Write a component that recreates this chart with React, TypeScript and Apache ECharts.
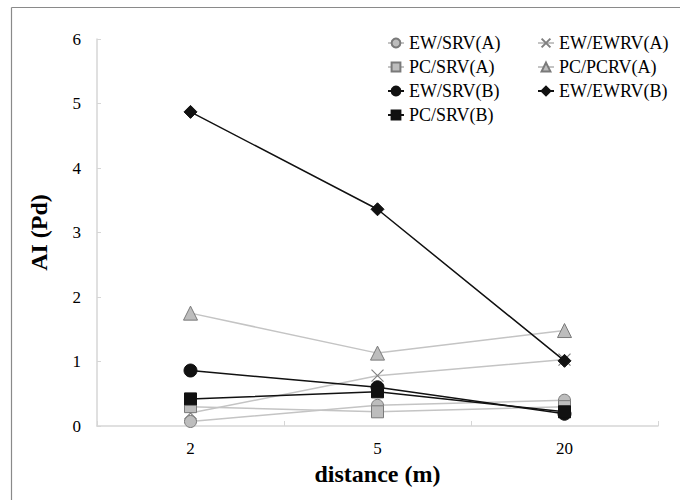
import React, { useEffect, useRef } from "react";
import * as echarts from "echarts";

const categories = ["2", "5", "20"];
const ewSrvA = [0.07, 0.32, 0.4];
const ewEwrvA = [0.2, 0.78, 1.03];
const pcSrvA = [0.3, 0.22, 0.3];
const pcPcrvA = [1.75, 1.13, 1.48];
const ewSrvB = [0.86, 0.6, 0.19];
const ewEwrvB = [4.87, 3.36, 1.01];
const pcSrvB = [0.42, 0.53, 0.22];
const yTicks = [0, 6, 1];

const FONT = "'Liberation Serif', 'DejaVu Serif', serif";
const GRAY_LINE = "#c4c4c4";
const GRAY_FILL = "#bdbdbd";
const GRAY_BORDER = "#7a7a7a";
const BLACK = "#111111";
const CROSS = "path://M0,0L10,10M10,0L0,10";

export default function App() {
  const ref = useRef<HTMLDivElement>(null);
  useEffect(() => {
    if (!ref.current) return;
    const chart = echarts.init(ref.current, undefined, { renderer: "svg" });
    const grayS = (name: string, data: number[], symbol: string, size: number) => ({
      name,
      type: "line",
      data,
      symbol,
      symbolSize: size,
      lineStyle: { color: GRAY_LINE, width: 1.5 },
      itemStyle: { color: GRAY_FILL, borderColor: GRAY_BORDER, borderWidth: 1 },
      emphasis: { disabled: true },
    });
    const blackS = (name: string, data: number[], symbol: string, size: number) => ({
      name,
      type: "line",
      data,
      symbol,
      symbolSize: size,
      lineStyle: { color: BLACK, width: 1.5 },
      itemStyle: { color: BLACK, borderColor: BLACK, borderWidth: 1 },
      emphasis: { disabled: true },
    });
    const crossS = {
      name: "EW/EWRV(A)",
      type: "line",
      data: ewEwrvA,
      symbol: CROSS,
      symbolSize: 12,
      lineStyle: { color: GRAY_LINE, width: 1.5 },
      itemStyle: { color: "rgba(0,0,0,0)", borderColor: "#808080", borderWidth: 1.2 },
      emphasis: { disabled: true },
    };
    const legendBase = {
      orient: "vertical",
      itemWidth: 16,
      itemHeight: 11,
      itemGap: 6,
      selectedMode: false,
      textStyle: { fontFamily: FONT, fontSize: 18, color: "#000", lineHeight: 18 },
    };
    chart.setOption({
      animation: false,
      backgroundColor: "#ffffff",
      grid: { left: 97, right: 22, top: 39, bottom: 74, containLabel: false },
      legend: [
        { ...legendBase, left: 382, top: 29, data: ["EW/SRV(A)", "PC/SRV(A)", "EW/SRV(B)", "PC/SRV(B)"] },
        { ...legendBase, left: 532, top: 29, data: ["EW/EWRV(A)", "PC/PCRV(A)", "EW/EWRV(B)"] },
      ],
      xAxis: {
        type: "category",
        data: categories,
        boundaryGap: true,
        name: "distance (m)",
        nameLocation: "middle",
        nameGap: 36,
        nameTextStyle: { fontFamily: FONT, fontSize: 24, fontWeight: "bold", color: "#000" },
        axisLine: { lineStyle: { color: "#d6d6d6", width: 1.5 } },
        axisTick: { show: true, inside: true, length: 5, lineStyle: { color: "#d6d6d6" } },
        axisLabel: { fontFamily: FONT, fontSize: 17, color: "#000", margin: 14 },
        splitLine: { show: false },
      },
      yAxis: {
        type: "value",
        min: yTicks[0],
        max: yTicks[1],
        interval: yTicks[2],
        name: "AI (Pd)",
        nameLocation: "middle",
        nameRotate: 90,
        nameGap: 46,
        nameTextStyle: { fontFamily: FONT, fontSize: 24, fontWeight: "bold", color: "#000" },
        axisLine: { show: true, lineStyle: { color: "#d6d6d6", width: 1.5 } },
        axisTick: { show: true, inside: true, length: 4, lineStyle: { color: "#d6d6d6" } },
        axisLabel: { fontFamily: FONT, fontSize: 17, color: "#000", margin: 16 },
        splitLine: { show: false },
      },
      graphic: [
        { type: "line", shape: { x1: 11.5, y1: 7.5, x2: 680, y2: 7.5 }, style: { stroke: "#8a8a8a", lineWidth: 1.2 } },
        { type: "line", shape: { x1: 11.5, y1: 7.5, x2: 11.5, y2: 500 }, style: { stroke: "#8a8a8a", lineWidth: 1.2 } },
      ],
      series: [
        grayS("EW/SRV(A)", ewSrvA, "circle", 12),
        crossS,
        grayS("PC/SRV(A)", pcSrvA, "rect", 12),
        grayS("PC/PCRV(A)", pcPcrvA, "triangle", 14),
        blackS("EW/SRV(B)", ewSrvB, "circle", 13),
        blackS("EW/EWRV(B)", ewEwrvB, "diamond", 13),
        blackS("PC/SRV(B)", pcSrvB, "rect", 12),
      ],
    });
    return () => chart.dispose();
  }, []);
  return (
    <div
      ref={ref}
      style={{ position: "fixed", left: 0, top: 0, width: 680, height: 500, background: "#fff" }}
    />
  );
}
